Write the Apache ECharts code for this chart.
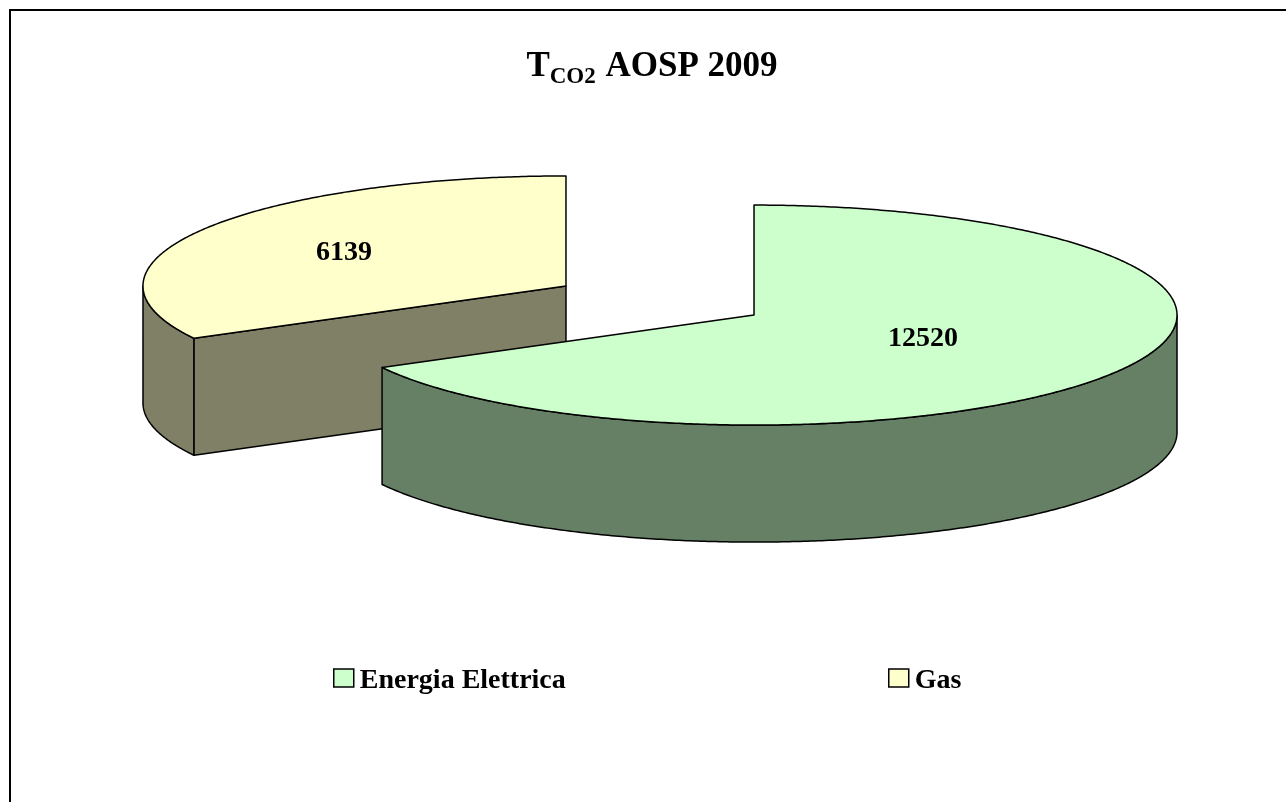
<!DOCTYPE html>
<html>
<head>
<meta charset="utf-8">
<style>html,body{margin:0;padding:0;background:#fff}#c{width:1286px;height:802px}</style>
<script src="https://cdn.jsdelivr.net/npm/echarts@6/dist/echarts.min.js"></script>
</head>
<body>
<div id="c"></div>
<script>
var categories = ['Energia Elettrica', 'Gas'];
var values = [12520, 6139];

var topColors = ['#CCFFCC', '#FFFFCC'];
var sideColors = ['#668066', '#808066'];
var FONT = '"Liberation Serif", "Times New Roman", serif';
var pie = { cx: 660, cy: 300.5, rx: 423, ry: 110, depth: 117, explode: 0.2587 };
var labelShift = [[169, 24], [-222, -33]];
var total = values.reduce(function (a, b) { return a + b; }, 0);

function rad(d) { return d * Math.PI / 180; }

function renderSlice(index) {
  return function (params, api) {
    var value = api.value(0);
    var startDeg = 0;
    for (var i = 0; i < index; i++) { startDeg += values[i] / total * 360; }
    var endDeg = startDeg + value / total * 360;
    var mid = rad((startDeg + endDeg) / 2);
    var cx = pie.cx + pie.rx * pie.explode * Math.sin(mid);
    var cy = pie.cy - pie.ry * pie.explode * Math.cos(mid);
    function pt(deg, down) {
      return [cx + pie.rx * Math.sin(rad(deg)), cy - pie.ry * Math.cos(rad(deg)) + (down || 0)];
    }
    function arc(a, b, down) {
      var out = [], n = Math.max(2, Math.ceil(Math.abs(b - a) * 2));
      for (var k = 0; k <= n; k++) { out.push(pt(a + (b - a) * k / n, down)); }
      return out;
    }
    var stroke = { stroke: '#000', lineWidth: 1.5, lineJoin: 'round' };
    function shape(points, fill) {
      return { type: 'polygon', shape: { points: points }, style: Object.assign({ fill: fill }, stroke) };
    }
    var children = [];
    // Outer wall: only the front half of the rim (90 to 270 degrees) faces the viewer
    [[Math.max(startDeg, 90), Math.min(endDeg, 270)]].forEach(function (r) {
      if (r[1] > r[0]) {
        children.push(shape(arc(r[0], r[1], 0).concat(arc(r[1], r[0], pie.depth)), sideColors[index]));
      }
    });
    // Cut face on the slice's start edge, when it faces the viewer
    if (-Math.sin(rad(startDeg)) > 0.001) {
      var p = pt(startDeg);
      children.push(shape([[cx, cy], p, [p[0], p[1] + pie.depth], [cx, cy + pie.depth]], sideColors[index]));
    }
    // Top face
    children.push(shape([[cx, cy]].concat(arc(startDeg, endDeg, 0)), topColors[index]));
    // Value label
    children.push({
      type: 'text',
      x: cx + labelShift[index][0],
      y: cy + labelShift[index][1],
      style: {
        text: String(value), fill: '#000', align: 'center', verticalAlign: 'middle',
        font: 'bold 28px ' + FONT
      }
    });
    return { type: 'group', children: children };
  };
}

var legendLeft = [333, 888];
var option = {
  backgroundColor: '#fff',
  animation: false,
  title: {
    left: 647, top: 44, textAlign: 'center',
    text: '{t|T}{s|CO2}{a| AOSP 2009}',
    textStyle: {
      rich: {
        t: { fontFamily: FONT, fontWeight: 'bold', fontSize: 35, color: '#000', verticalAlign: 'bottom', padding: [0, 0, 5, 0] },
        a: { fontFamily: FONT, fontWeight: 'bold', fontSize: 35, color: '#000', verticalAlign: 'bottom', padding: [0, 0, 5, 1] },
        s: { fontFamily: FONT, fontWeight: 'bold', fontSize: 23, color: '#000', verticalAlign: 'bottom' }
      }
    }
  },
  legend: categories.map(function (name, i) {
    return {
      data: [name], left: legendLeft[i], top: 667, itemWidth: 20, itemHeight: 18, itemGap: 0,
      icon: 'rect', selectedMode: false, padding: 0,
      itemStyle: { borderColor: '#000', borderWidth: 1.5 },
      formatter: '{n|{name}}',
      textStyle: {
        rich: { n: { fontFamily: FONT, fontWeight: 'bold', fontSize: 28, color: '#000', padding: [6, 0, 0, 1] } }
      }
    };
  }),
  graphic: [
    { type: 'polyline', silent: true, shape: { points: [[10, 802], [10, 10], [1286, 10]] }, style: { stroke: '#000', lineWidth: 2, fill: null } }
  ],
  series: categories.map(function (name, i) {
    return {
      type: 'custom', name: name, coordinateSystem: 'none', silent: true,
      z: 3 - i,
      itemStyle: { color: topColors[i] },
      encode: { value: 0 },
      data: [[values[i]]],
      renderItem: renderSlice(i)
    };
  })
};
var chart = echarts.init(document.getElementById('c'), null, { renderer: 'canvas' });
chart.setOption(option);
</script>
</body>
</html>
